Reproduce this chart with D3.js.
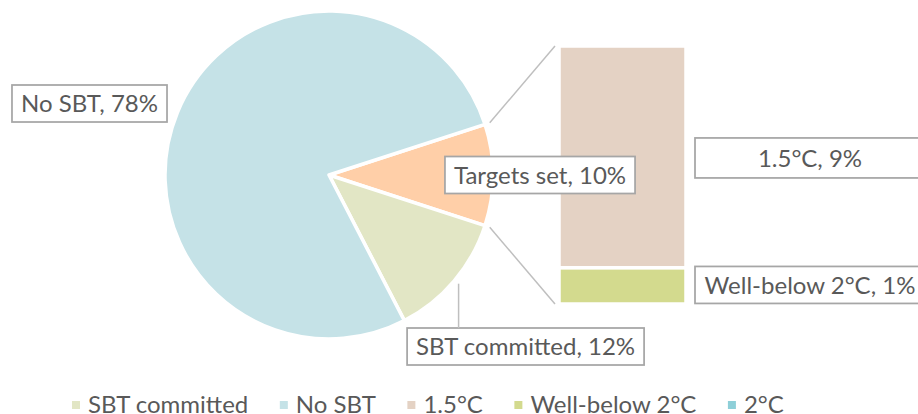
<!DOCTYPE html>
<html>
<head>
<meta charset="utf-8">
<script src="https://cdn.jsdelivr.net/npm/d3@7"></script>
<style>
  html, body { margin: 0; padding: 0; background: #fff; }
  svg { display: block; }
  text { font-family: Lato, "Open Sans", sans-serif; fill: #595959; }
</style>
</head>
<body>
<svg id="chart" width="918" height="414"></svg>
<script>
// ---- data ----
const pieCategories = ["SBT committed", "No SBT"];
const pieValues = [12.4, 77.6];
const otherLabel = "Targets set";
const barCategories = ["1.5°C", "Well-below 2°C", "2°C"];
const barValues = [8.6, 1.4, 0];
const legendCategories = ["SBT committed", "No SBT", "1.5°C", "Well-below 2°C", "2°C"];
const colors = {
  "SBT committed": "#e2e6c5",
  "No SBT": "#c5e2e7",
  "Targets set": "#ffcfa8",
  "1.5°C": "#e4d2c4",
  "Well-below 2°C": "#d3da8e",
  "2°C": "#8ecfd8"
};

// ---- layout ----
const W = 918, H = 414;
const cx = 329, cy = 175, R = 164;
const fontSize = 24;
const barX = 559, barW = 127, barTop = 46, barBottom = 304;
const svg = d3.select("#chart");

const otherValue = d3.sum(barValues);
const pieData = [{name: otherLabel, value: otherValue}]
  .concat(pieCategories.map((c, i) => ({name: c, value: pieValues[i]})));
const total = d3.sum(pieData, d => d.value);
const otherShare = otherValue / total;
const start = Math.PI / 2 - Math.PI * otherShare;

const pie = d3.pie().sort(null).value(d => d.value)
  .startAngle(start).endAngle(start + 2 * Math.PI);
const arcs = pie(pieData);
const arc = d3.arc().innerRadius(0).outerRadius(R);

const gPie = svg.append("g").attr("transform", `translate(${cx},${cy})`);
gPie.selectAll("path").data(arcs).enter().append("path")
  .attr("d", arc)
  .attr("fill", d => colors[d.data.name])
  .attr("stroke", "#fff")
  .attr("stroke-width", 3.5)
  .attr("stroke-linejoin", "round");

// ---- bar ----
const y = d3.scaleLinear().domain([0, otherValue]).range([barBottom, barTop]);
let acc = otherValue;
const barData = barCategories.map((c, i) => {
  const top = acc; acc -= barValues[i];
  return {name: c, value: barValues[i], y0: acc, y1: top};
});
svg.append("g").selectAll("rect").data(barData.filter(d => d.value > 0)).enter().append("rect")
  .attr("x", barX).attr("width", barW)
  .attr("y", d => y(d.y1)).attr("height", d => y(d.y0) - y(d.y1))
  .attr("fill", d => colors[d.name])
  .attr("stroke", "#fff").attr("stroke-width", 3.5);

// ---- connector lines ----
const otherArc = arcs[0];
const pt = (a, r) => [cx + Math.sin(a) * r, cy - Math.cos(a) * r];
const p1 = pt(otherArc.startAngle, R + 5), p2 = pt(otherArc.endAngle, R + 5);
const conn = svg.append("g").attr("stroke", "#bfbfbf").attr("stroke-width", 1.5);
conn.append("line").attr("x1", p1[0]).attr("y1", p1[1]).attr("x2", barX - 4).attr("y2", y(otherValue));
conn.append("line").attr("x1", p2[0]).attr("y1", p2[1]).attr("x2", barX - 4).attr("y2", y(0));

// ---- labels ----
function label(text, cxT, cyT, opts = {}) {
  const g = svg.append("g");
  const t = g.append("text").attr("font-size", fontSize).attr("text-anchor", "middle")
    .attr("x", cxT).attr("y", cyT + fontSize * 0.36).text(text);
  const tw = t.node().getComputedTextLength();
  const bw = opts.width || tw + 18, bh = opts.height || 37;
  g.insert("rect", "text")
    .attr("x", cxT - bw / 2).attr("y", cyT - bh / 2)
    .attr("width", bw).attr("height", bh)
    .attr("fill", "#fff").attr("stroke", "#a6a6a6").attr("stroke-width", 1.75);
  return {x: cxT - bw / 2, y: cyT - bh / 2, w: bw, h: bh};
}
const fmt = (n, v) => `${n}, ${Math.round(v)}%`;

const noSbt = arcs.find(d => d.data.name === "No SBT");
label(fmt("No SBT", noSbt.data.value), 89.5, 103.5);
label(fmt(otherLabel, otherValue), cx + 211, cy);
const sbt = arcs.find(d => d.data.name === "SBT committed");
const mid = (sbt.startAngle + sbt.endAngle) / 2;
const lp = pt(mid, R + 4);
const sbtBox = label(fmt("SBT committed", sbt.data.value), lp[0] + 68.5, 346.5);
svg.append("line").attr("x1", lp[0] + 1.5).attr("y1", lp[1])
  .attr("x2", lp[0] + 1.5).attr("y2", sbtBox.y)
  .attr("stroke", "#bfbfbf").attr("stroke-width", 1.5);
barData.filter(d => d.value > 0).forEach((d, i) => {
  const ym = (y(d.y0) + y(d.y1)) / 2;
  label(fmt(d.name, d.value), barX + barW + 9 + 115, ym + (i === 0 ? 1 : -1), {width: 230, height: i === 0 ? 40 : 37});
});

// ---- legend ----
const lg = svg.append("g");
let lx = 72;
legendCategories.forEach(c => {
  lg.append("rect").attr("x", lx).attr("y", 401).attr("width", 8).attr("height", 8).attr("fill", colors[c]);
  const t = lg.append("text").attr("x", lx + 16).attr("y", 413).attr("font-size", fontSize).text(c);
  lx += 16 + t.node().getComputedTextLength() + 31.5;
});
</script>
</body>
</html>
